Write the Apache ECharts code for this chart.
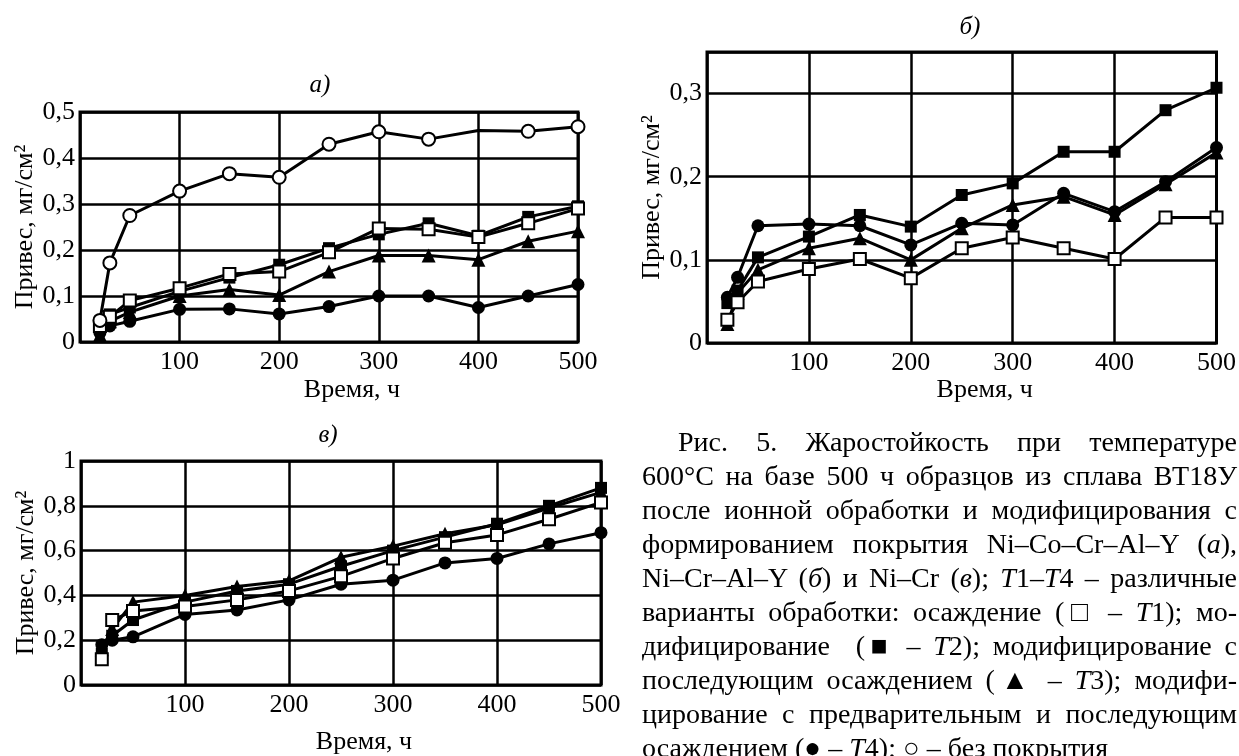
<!DOCTYPE html>
<html>
<head>
<meta charset="utf-8">
<script src="https://cdn.jsdelivr.net/npm/echarts@6/dist/echarts.min.js"></script>
<style>
  html, body { margin: 0; padding: 0; background: #fff; }
  #chart { position: absolute; left: 0; top: 0; width: 1239px; height: 756px; }
  #caption {
    position: absolute; left: 642px; top: 425px; width: 595px;
    font-family: 'Liberation Serif', serif; font-size: 28px; line-height: 34px; color: #000;
  }
  #caption div { text-align: justify; text-align-last: justify; white-space: nowrap; }
  #caption div.first { text-indent: 36px; }
  #caption div.last { text-align: left; text-align-last: left; }
</style>
</head>
<body>
<div id="chart"></div>
<div id="caption">
  <div class="first">Рис. 5. Жаростойкость при температуре</div>
  <div>600°С на базе 500 ч образцов из сплава ВТ18У</div>
  <div>после ионной обработки и модифицирования с</div>
  <div>формированием покрытия Ni–Co–Cr–Al–Y (<i>а</i>),</div>
  <div>Ni–Cr–Al–Y (<i>б</i>) и Ni–Cr (<i>в</i>); <i>Т</i>1–<i>Т</i>4 – различные</div>
  <div>варианты обработки: осаждение (□ – <i>Т</i>1); мо-</div>
  <div>дифицирование &nbsp;(■ – <i>Т</i>2); модифицирование с</div>
  <div>последующим осаждением (▲ – <i>Т</i>3); модифи-</div>
  <div>цирование с предварительным и последующим</div>
  <div class="last">осаждением (● – <i>Т</i>4); ○ – без покрытия</div>
</div>
<script>
// время выдержки, ч
var hours = [20, 30, 50, 100, 150, 200, 250, 300, 350, 400, 450, 500];
var xTicks = [100, 200, 300, 400, 500];

// а) Ni-Co-Cr-Al-Y
var aBare = [0.047, 0.172, 0.275, 0.328, 0.366, 0.358, 0.430, 0.457, 0.441, 0.460, 0.458, 0.468];
var aBareHidden = [400]; // точка без маркера
var aT1 = [0.035, 0.055, 0.090, 0.117, 0.148, 0.153, 0.195, 0.247, 0.245, 0.228, 0.258, 0.290];
var aT2 = [0.030, 0.060, 0.075, 0.110, 0.140, 0.168, 0.204, 0.234, 0.258, 0.231, 0.272, 0.295];
var aT3 = [0.015, 0.045, 0.065, 0.100, 0.114, 0.102, 0.153, 0.188, 0.188, 0.179, 0.219, 0.241];
var aT4 = [0.020, 0.035, 0.045, 0.071, 0.072, 0.061, 0.077, 0.100, 0.100, 0.075, 0.100, 0.125];
var aYTicks = [0, 0.1, 0.2, 0.3, 0.4, 0.5];

// б) Ni-Cr-Al-Y
var bT1 = [0.028, 0.049, 0.074, 0.089, 0.101, 0.078, 0.114, 0.127, 0.114, 0.101, 0.151, 0.151];
var bT2 = [0.048, 0.063, 0.103, 0.128, 0.154, 0.140, 0.178, 0.192, 0.230, 0.230, 0.280, 0.307];
var bT3 = [0.023, 0.060, 0.088, 0.114, 0.126, 0.100, 0.138, 0.166, 0.176, 0.154, 0.191, 0.229];
var bT4 = [0.055, 0.079, 0.141, 0.143, 0.141, 0.118, 0.144, 0.142, 0.180, 0.158, 0.194, 0.235];
var bYTicks = [0, 0.1, 0.2, 0.3];

// в) Ni-Cr
var cT1 = [0.115, 0.290, 0.330, 0.350, 0.380, 0.420, 0.485, 0.565, 0.635, 0.670, 0.740, 0.815];
var cT2 = [0.140, 0.220, 0.290, 0.370, 0.420, 0.450, 0.530, 0.600, 0.660, 0.720, 0.800, 0.880];
var cT3 = [0.160, 0.250, 0.370, 0.400, 0.440, 0.465, 0.570, 0.620, 0.675, 0.715, 0.790, 0.860];
var cT4 = [0.180, 0.200, 0.215, 0.315, 0.335, 0.380, 0.450, 0.468, 0.545, 0.565, 0.630, 0.680];
var cYTicks = [0, 0.2, 0.4, 0.6, 0.8, 1];

var FONT = 'Liberation Serif';
var FS = 26;

function yFmt(ticks) {
  return function (v) {
    var r = +v.toFixed(2);
    return ticks.indexOf(r) >= 0 ? String(r).replace('.', ',') : '';
  };
}

function xAx(gi, gap) {
  return {
    gridIndex: gi, type: 'value', min: 0, max: 500, interval: 100,
    axisLine: { show: false }, axisTick: { show: false },
    splitLine: { lineStyle: { color: '#000', width: 2.5 } },
    axisLabel: {
      color: '#000', fontFamily: FONT, fontSize: FS, margin: 7,
      formatter: function (v) { return xTicks.indexOf(v) >= 0 ? String(v) : ''; }
    },
    name: 'Время, ч', nameLocation: 'middle', nameGap: gap,
    nameTextStyle: { color: '#000', fontFamily: FONT, fontSize: FS, padding: [0, 0, 0, 46] }
  };
}

function yAx(gi, max, step, ticks) {
  return {
    gridIndex: gi, type: 'value', min: 0, max: max, interval: step,
    axisLine: { show: false }, axisTick: { show: false },
    splitLine: { lineStyle: { color: '#000', width: 2.5 } },
    axisLabel: { color: '#000', fontFamily: FONT, fontSize: FS, margin: 5, formatter: yFmt(ticks) },
    name: 'Привес, мг/см²', nameLocation: 'middle', nameGap: 42, nameRotate: 90,
    nameTextStyle: { color: '#000', fontFamily: FONT, fontSize: FS }
  };
}

function line(gi, ys, sym, filled, hidden) {
  hidden = hidden || [];
  return {
    type: 'line', xAxisIndex: gi, yAxisIndex: gi,
    data: hours.map(function (h, i) {
      return hidden.indexOf(h) >= 0 ? { value: [h, ys[i]], symbolSize: 0 } : [h, ys[i]];
    }),
    symbol: sym, symbolSize: sym === 'triangle' ? 14 : (sym === 'circle' ? 13 : 12),
    lineStyle: { color: '#000', width: 3 },
    itemStyle: { color: filled ? '#000' : '#fff', borderColor: '#000', borderWidth: filled ? 0 : 2 },
    emphasis: { disabled: true }
  };
}

var chart = echarts.init(document.getElementById('chart'));
chart.setOption({
  animation: false,
  backgroundColor: '#fff',
  grid: [
    { left: 80, top: 112, width: 498, height: 230, show: true, borderColor: '#000', borderWidth: 3 },
    { left: 707, top: 52, width: 518, height: 291, show: true, borderColor: '#000', borderWidth: 3 },
    { left: 81, top: 461, width: 520, height: 226, show: true, borderColor: '#000', borderWidth: 3 }
  ],
  xAxis: [xAx(0, 35), xAx(1, 34), xAx(2, 44)],
  yAxis: [yAx(0, 0.5, 0.1, aYTicks), yAx(1, 0.35, 0.1, bYTicks), yAx(2, 1, 0.2, cYTicks)],
  graphic: [
    { type: 'text', x: 320, y: 85, style: { text: 'а)', font: 'italic 25px "Liberation Serif"', fill: '#000', align: 'center', verticalAlign: 'middle' } },
    { type: 'text', x: 970, y: 27, style: { text: 'б)', font: 'italic 25px "Liberation Serif"', fill: '#000', align: 'center', verticalAlign: 'middle' } },
    { type: 'text', x: 328, y: 435, style: { text: 'в)', font: 'italic 25px "Liberation Serif"', fill: '#000', align: 'center', verticalAlign: 'middle' } }
  ],
  series: [
    line(0, aT4, 'circle', true),
    line(0, aT3, 'triangle', true),
    line(0, aT2, 'rect', true),
    line(0, aT1, 'rect', false),
    line(0, aBare, 'circle', false, aBareHidden),
    line(1, bT4, 'circle', true),
    line(1, bT3, 'triangle', true),
    line(1, bT2, 'rect', true),
    line(1, bT1, 'rect', false),
    line(2, cT4, 'circle', true),
    line(2, cT3, 'triangle', true),
    line(2, cT2, 'rect', true),
    line(2, cT1, 'rect', false)
  ]
});
</script>
</body>
</html>
